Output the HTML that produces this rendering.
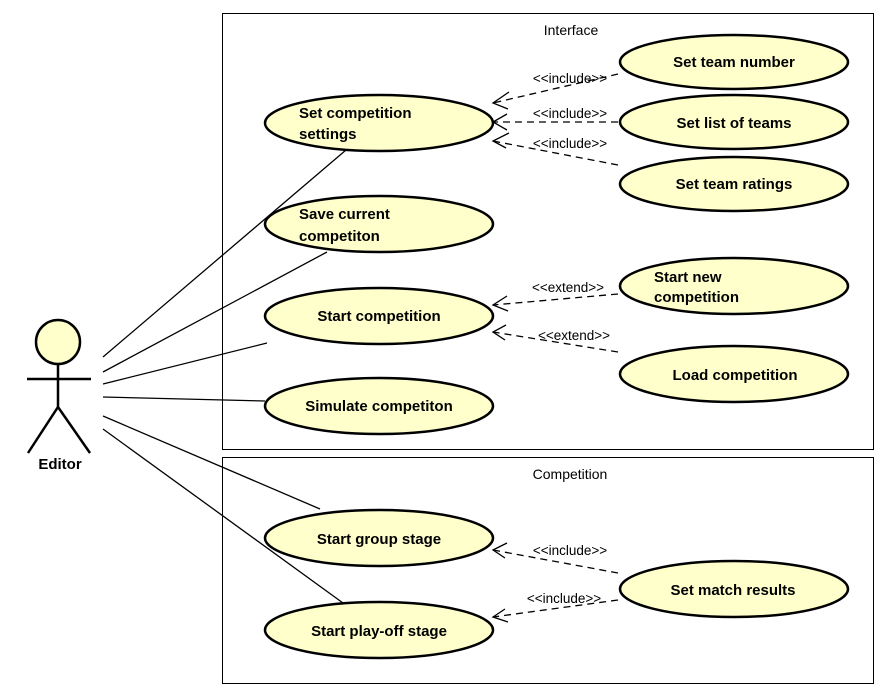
<!DOCTYPE html>
<html><head><style>body{margin:0;background:#fff}svg{display:block}</style></head><body>
<svg width="886" height="696" xmlns="http://www.w3.org/2000/svg" font-family="Liberation Sans, sans-serif">
<rect x="222.5" y="13.5" width="651" height="436" fill="none" stroke="#000"/>
<rect x="222.5" y="457.5" width="651" height="226" fill="none" stroke="#000"/>
<text x="571" y="35" font-size="14" text-anchor="middle">Interface</text>
<text x="570" y="479" font-size="14" text-anchor="middle">Competition</text>
<g fill="#ffffcc" stroke="#000" stroke-width="2.5">
<ellipse cx="379" cy="123" rx="114" ry="28"/>
<ellipse cx="379" cy="224" rx="114" ry="28"/>
<ellipse cx="379" cy="316" rx="114" ry="28"/>
<ellipse cx="379" cy="406" rx="114" ry="28"/>
<ellipse cx="734" cy="62" rx="114" ry="27"/>
<ellipse cx="734" cy="122" rx="114" ry="27"/>
<ellipse cx="734" cy="184" rx="114" ry="27"/>
<ellipse cx="734" cy="286" rx="114" ry="28"/>
<ellipse cx="734" cy="374" rx="114" ry="28"/>
<ellipse cx="379" cy="538" rx="114" ry="28"/>
<ellipse cx="379" cy="630" rx="114" ry="28"/>
<ellipse cx="734" cy="589" rx="114" ry="28"/>
<circle cx="58" cy="342" r="22"/>
</g>
<g stroke="#000" stroke-width="2.5" fill="none">
<line x1="58" y1="364" x2="58" y2="407"/>
<line x1="27" y1="379" x2="91" y2="379"/>
<polyline points="28,453 58,407 90,453"/>
</g>
<text x="60" y="469" font-size="15" font-weight="bold" text-anchor="middle">Editor</text>
<g stroke="#000" stroke-width="1.3">
<line x1="103" y1="357" x2="346" y2="150"/>
<line x1="103" y1="372" x2="327" y2="252"/>
<line x1="103" y1="384" x2="267" y2="343"/>
<line x1="103" y1="397" x2="265" y2="401"/>
<line x1="103" y1="416" x2="320" y2="509"/>
<line x1="103" y1="429" x2="343" y2="603"/>
</g>
<g stroke="#000" stroke-width="1.3" fill="none" stroke-dasharray="7,5">
<line x1="618" y1="74" x2="493" y2="103"/>
<line x1="618" y1="122" x2="493" y2="122"/>
<line x1="618" y1="165" x2="493" y2="141"/>
<line x1="618" y1="294" x2="493" y2="305"/>
<line x1="618" y1="352" x2="493" y2="332"/>
<line x1="618" y1="573" x2="493" y2="550"/>
<line x1="618" y1="600" x2="493" y2="617"/>
</g>
<g stroke="#000" stroke-width="1.3" fill="none">
<polyline points="509,92 493,103 508,109"/>
<polyline points="507,114 493,122 507,130"/>
<polyline points="509,133 493,141 506,148"/>
<polyline points="507,296 493,305 508,311"/>
<polyline points="506,325 493,332 505,340"/>
<polyline points="507,543 493,550 505,558"/>
<polyline points="505,609 493,617 508,622"/>
</g>
<g font-size="13.5" text-anchor="middle">
<text x="570" y="83">&lt;&lt;include&gt;&gt;</text>
<text x="570" y="118">&lt;&lt;include&gt;&gt;</text>
<text x="570" y="148">&lt;&lt;include&gt;&gt;</text>
<text x="568" y="292">&lt;&lt;extend&gt;&gt;</text>
<text x="574" y="340">&lt;&lt;extend&gt;&gt;</text>
<text x="570" y="555">&lt;&lt;include&gt;&gt;</text>
<text x="564" y="603">&lt;&lt;include&gt;&gt;</text>
</g>
<g font-size="15" font-weight="bold">
<text x="299" y="118">Set competition</text>
<text x="299" y="139">settings</text>
<text x="299" y="219">Save current</text>
<text x="299" y="241">competiton</text>
<text x="654" y="282">Start new</text>
<text x="654" y="302">competition</text>
</g>
<g font-size="15" font-weight="bold" text-anchor="middle">
<text x="379" y="321">Start competition</text>
<text x="379" y="411">Simulate competiton</text>
<text x="734" y="67">Set team number</text>
<text x="734" y="128">Set list of teams</text>
<text x="734" y="189">Set team ratings</text>
<text x="735" y="380">Load competition</text>
<text x="379" y="544">Start group stage</text>
<text x="379" y="636">Start play-off stage</text>
<text x="733" y="595">Set match results</text>
</g>
</svg>
</body></html>
